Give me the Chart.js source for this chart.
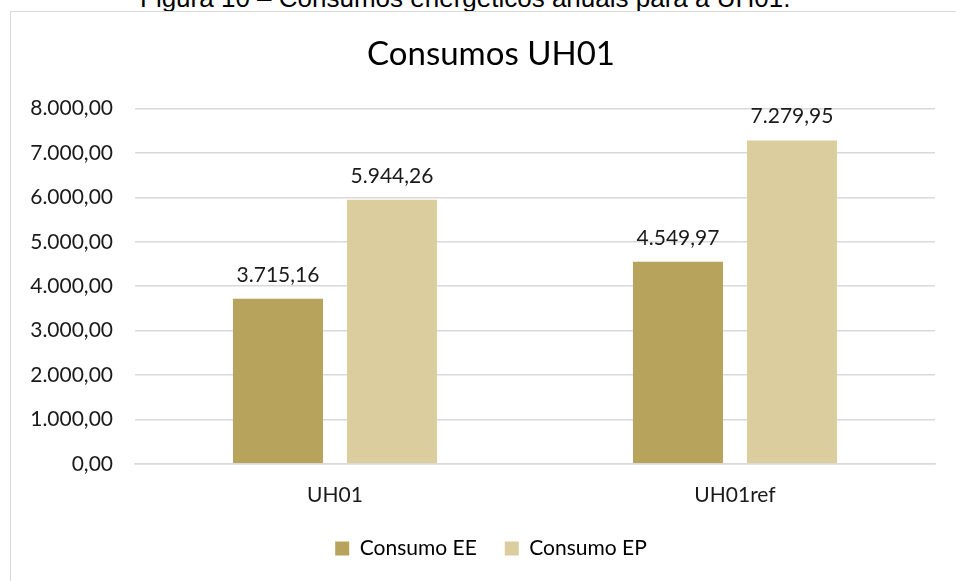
<!DOCTYPE html>
<html>
<head>
<meta charset="utf-8">
<script src="https://cdn.jsdelivr.net/npm/chart.js@4.4.1/dist/chart.umd.min.js"></script>
<style>
body{margin:0;background:#fff;width:956px;height:581px;overflow:hidden;position:relative;}
#caption{position:absolute;left:140px;top:-15px;font-family:"Liberation Sans",Arial,sans-serif;font-size:26px;line-height:26px;color:#000;white-space:nowrap;}
#box{position:absolute;left:10px;top:11px;width:961px;height:570px;background:#fff;border-left:1px solid #d9d9d9;border-top:1px solid #d9d9d9;}
#chart{position:absolute;left:0;top:0;}
</style>
</head>
<body>
<div id="caption">Figura 10 – Consumos energéticos anuais para a UH01.</div>
<div id="box"><canvas id="chart" width="960" height="569"></canvas></div>
<script>
let categories = ["UH01","UH01ref"];
let consumoEE = [3715.16, 4549.97];
let consumoEP = [5944.26, 7279.95];
let yTicks = [0,1000,2000,3000,4000,5000,6000,7000,8000];

let fontName = "Lato, 'Open Sans', sans-serif";

function fmt(v){
return v.toLocaleString("pt-BR",{minimumFractionDigits:2,maximumFractionDigits:2});
}

// rótulos acima das barras
let barLabels = {
id:"barLabels",
afterDatasetsDraw(c){
let ctx = c.ctx;
ctx.save();
ctx.font = "21px " + fontName;
ctx.fillStyle = "#1a1a1a";
ctx.textAlign = "center";
ctx.textBaseline = "middle";
c.data.datasets.forEach((ds,i)=>{
c.getDatasetMeta(i).data.forEach((bar,j)=>{
ctx.fillText(fmt(ds.data[j]), bar.x, bar.y - 24);
});
});
ctx.restore();
}
};

let chart = new Chart(document.getElementById("chart"), {
type: "bar",
data: {
labels: categories,
datasets: [
{label:"Consumo EE", data:consumoEE, backgroundColor:"#b7a35b", categoryPercentage:0.57, barPercentage:0.79},
{label:"Consumo EP", data:consumoEP, backgroundColor:"#dbcd9d", categoryPercentage:0.57, barPercentage:0.79}
]
},
options: {
responsive:false,
animation:false,
layout:{padding:{left:0,right:0,top:0,bottom:12}},
plugins:{
title:{display:true,text:"Consumos UH01",color:"#000",font:{family:fontName,size:33,weight:"normal"},padding:{top:23,bottom:34}},
legend:{position:"bottom",labels:{color:"#000",font:{family:fontName,size:21},boxWidth:14,boxHeight:14,padding:28}},
tooltip:{enabled:false}
},
scales:{
x:{
grid:{display:false},
border:{display:true,color:"#d9d9d9",width:1.5},
ticks:{color:"#1a1a1a",font:{family:fontName,size:21},padding:11},
afterFit(s){ s.height = s.height - 9; }
},
y:{
min:0,max:8000,
afterBuildTicks(s){ s.ticks = yTicks.map(v=>({value:v})); },
afterFit(s){ s.width = 124; },
grid:{color:"#d9d9d9",lineWidth:1.5,drawTicks:false},
border:{display:false},
ticks:{color:"#1a1a1a",font:{family:fontName,size:21},padding:22,callback:v=>fmt(v)}
},
yRight:{
position:"right",
grid:{display:false},
border:{display:false},
ticks:{display:false},
afterFit(s){ s.width = 36; }
}
}
},
plugins:[barLabels]
});
</script>
</body>
</html>
